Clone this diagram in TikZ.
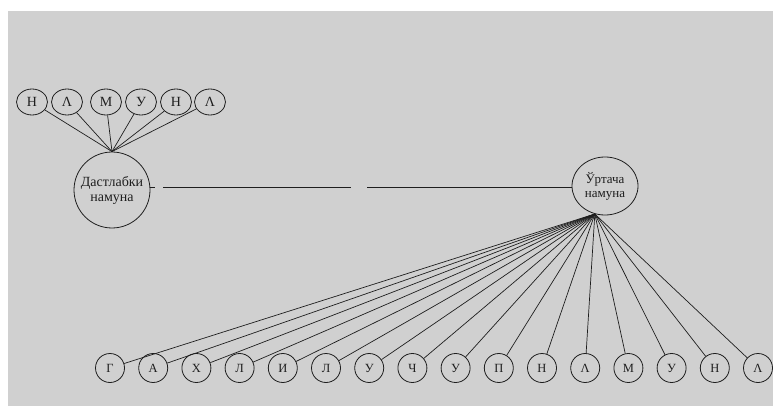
\documentclass[tikz,border=0pt]{standalone}
\usepackage{fontspec}
\setmainfont{Liberation Serif}
\usetikzlibrary{shapes.geometric}
\definecolor{paper}{RGB}{208,208,208}
\definecolor{ink}{RGB}{30,30,30}
\tikzset{
  small/.style={ellipse,draw=ink,line width=0.8pt,minimum width=31pt,minimum height=26pt,inner sep=0pt,font=\fontsize{14}{14}\selectfont,text=ink},
  bsmall/.style={circle,draw=ink,line width=0.8pt,minimum size=29pt,inner sep=0pt,font=\fontsize{12.5}{12.5}\selectfont,text=ink},
  big/.style={circle,draw=ink,line width=0.8pt,minimum size=76pt,inner sep=0pt,align=center,font=\fontsize{14}{15}\selectfont,text=ink},
  bigell/.style={ellipse,draw=ink,line width=0.8pt,minimum width=66pt,minimum height=58pt,inner sep=0pt,align=center,font=\fontsize{13}{14}\selectfont,text=ink},
  link/.style={draw=ink,line width=0.7pt}
}
\begin{document}
\begin{tikzpicture}[x=1pt,y=-1pt]
\fill[white] (0,0) rectangle (773,406);
\fill[paper] (8,11) rectangle (773,406);
\useasboundingbox (0,0) rectangle (773,406);

% big nodes
\node[big] (L) at (112,190) {Дастлабки\\намуна};
\node[bigell] (R) at (605,186) {Ўртача\\намуна};

% top small circles
\node[small] (t1) at (32,102) {Н};
\node[small] (t2) at (67,102) {Λ};
\node[small] (t3) at (106,102) {М};
\node[small] (t4) at (141,102) {У};
\node[small] (t5) at (176,102) {Н};
\node[small] (t6) at (210,102) {Λ};
\foreach \i in {1,...,6} \draw[link] (t\i) -- (L.north);

% horizontal connector with a gap
\coordinate (g1) at (163,187);
\coordinate (g2) at (351,187);
\coordinate (g3) at (367,187);
\draw[link] (L.east |- g1) -- ++(5,0);
\draw[link] (g1) -- (g2);
\draw[link] (g3) -- (R.west |- g3);

% bottom small circles
\coordinate (hub) at (R.-110);
\foreach \l [count=\i from 0] in {Г,А,Х,Л,И,Л,У,Ч,У,П,Н,Λ,М,У,Н,Λ}{
  \node[bsmall] (b\i) at ({110+43.2*\i},368) {\l};
  \draw[link] (b\i) -- (hub);
}
\end{tikzpicture}
\end{document}
